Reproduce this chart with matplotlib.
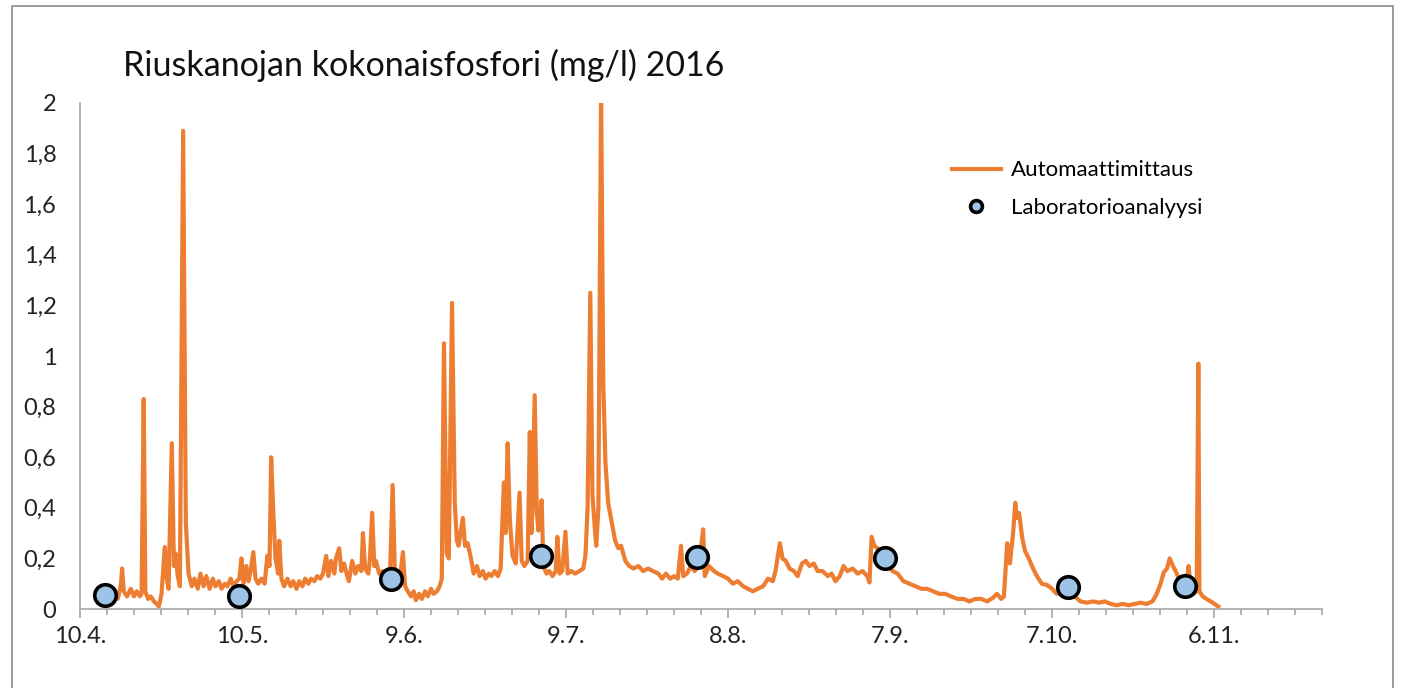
import matplotlib
matplotlib.use("Agg")
import matplotlib.pyplot as plt
import matplotlib.dates as mdates
from matplotlib.ticker import FixedLocator, FuncFormatter
from matplotlib.patches import Rectangle
import numpy as np
import pandas as pd

# aikasarja: päiviä 10.4.2016 alkaen ja pitoisuus (mg/l)
paiva = [4.2, 4.8, 5.5, 6.3, 7.0, 7.6, 7.8, 8.1, 8.7, 9.4, 10.0, 10.5, 11.1, 11.4, 11.8, 12.1,
         12.6, 13.1, 13.7, 14.2, 14.6, 15.1, 15.7, 16.1, 16.4, 17.0, 17.4, 17.7, 18.1, 18.5,
         19.1, 19.6, 20.1, 20.7, 21.2, 21.8, 22.3, 22.9, 23.4, 24.0, 24.6, 25.1, 25.7, 26.2,
         26.8, 27.3, 27.9, 28.4, 29.0, 29.5, 29.9, 30.3, 30.8, 31.2, 31.6, 32.1, 32.5, 33.0,
         33.6, 34.2, 34.7, 35.1, 35.4, 35.8, 36.2, 36.7, 36.9, 37.3, 37.8, 38.4, 39.0, 39.5,
         40.1, 40.6, 41.2, 41.7, 42.3, 42.8, 43.4, 43.9, 44.5, 45.0, 45.6, 46.0, 46.5, 47.1,
         47.4, 48.0, 48.4, 48.9, 49.5, 49.8, 50.4, 51.0, 51.5, 52.1, 52.4, 52.8, 53.4, 53.7,
         54.1, 54.5, 54.8, 55.4, 56.1, 56.9, 57.4, 57.9, 58.3, 58.9, 59.3, 59.8, 60.2, 60.7,
         61.3, 61.8, 62.2, 62.8, 63.3, 63.9, 64.4, 65.0, 65.5, 66.1, 66.6, 67.0, 67.4, 67.9,
         68.3, 68.9, 69.4, 69.8, 70.1, 70.9, 71.3, 71.8, 72.4, 72.9, 73.5, 74.0, 74.6, 75.1,
         75.7, 76.2, 76.8, 77.4, 77.9, 78.5, 78.8, 79.2, 79.6, 80.1, 80.7, 81.4, 81.8, 82.3,
         82.9, 83.3, 83.6, 83.8, 84.2, 84.6, 84.9, 85.5, 85.8, 86.4, 86.9, 87.5, 88.1, 88.4,
         88.8, 89.3, 89.9, 90.3, 91.0, 91.7, 92.5, 93.2, 93.6, 94.0, 94.5, 94.9, 95.3, 95.6,
         96.0, 96.5, 96.9, 97.3, 97.8, 98.4, 99.1, 99.7, 100.2, 101.0, 101.7, 102.5, 103.4,
         104.3, 105.2, 106.1, 107.1, 107.8, 108.5, 109.3, 110.0, 110.7, 111.3, 111.7, 112.4,
         113.1, 113.8, 114.6, 115.4, 115.7, 116.5, 117.4, 118.1, 119.1, 120.0, 120.9, 121.8,
         122.8, 123.7, 124.6, 125.5, 126.5, 127.4, 128.3, 128.8, 129.6, 130.1, 130.7, 131.4,
         132.2, 132.9, 133.7, 134.4, 135.1, 135.9, 136.6, 137.5, 138.5, 139.2, 139.9, 140.7,
         141.4, 142.1, 143.1, 144.0, 144.9, 145.8, 146.2, 146.6, 147.1, 147.7, 148.6, 149.5,
         150.5, 151.4, 152.5, 153.6, 154.7, 155.8, 156.9, 158.0, 159.1, 160.2, 161.3, 162.5,
         163.6, 164.7, 165.8, 166.9, 168.0, 169.1, 169.8, 170.6, 171.1, 171.7, 172.2, 172.8,
         173.2, 173.5, 173.9, 174.5, 175.0, 175.7, 176.5, 177.2, 178.1, 179.1, 180.0, 180.9,
         182.0, 183.1, 184.2, 185.3, 186.5, 187.6, 188.7, 189.8, 190.9, 192.0, 193.1, 194.2,
         195.3, 196.4, 197.5, 198.6, 199.4, 200.1, 200.7, 201.3, 201.8, 202.4, 202.9, 203.7,
         204.4, 205.0, 205.3, 205.7, 206.2, 206.8, 207.1, 207.3, 207.9, 208.6, 209.4, 210.1,
         210.8]
fosfori = [0.04, 0.02, 0.03, 0.05, 0.04, 0.10, 0.16, 0.07, 0.05, 0.08, 0.05, 0.07, 0.05, 0.06, 0.83, 0.07,
           0.04, 0.05, 0.03, 0.02, 0.01, 0.06, 0.245, 0.12, 0.08, 0.655, 0.17, 0.22, 0.13, 0.09,
           1.89, 0.34, 0.14, 0.09, 0.12, 0.08, 0.14, 0.09, 0.13, 0.08, 0.12, 0.09, 0.11, 0.08,
           0.10, 0.09, 0.12, 0.09, 0.11, 0.12, 0.20, 0.10, 0.17, 0.11, 0.15, 0.225, 0.12, 0.10,
           0.12, 0.10, 0.21, 0.17, 0.60, 0.38, 0.20, 0.14, 0.27, 0.12, 0.09, 0.12, 0.09, 0.11,
           0.08, 0.11, 0.09, 0.12, 0.10, 0.12, 0.11, 0.13, 0.12, 0.14, 0.21, 0.13, 0.19, 0.14,
           0.20, 0.24, 0.15, 0.18, 0.13, 0.11, 0.19, 0.14, 0.17, 0.15, 0.30, 0.16, 0.14, 0.20,
           0.38, 0.17, 0.19, 0.14, 0.15, 0.12, 0.13, 0.49, 0.15, 0.11, 0.13, 0.225, 0.09, 0.07,
           0.05, 0.07, 0.035, 0.06, 0.04, 0.07, 0.05, 0.08, 0.06, 0.07, 0.09, 0.12, 1.05, 0.22,
           0.20, 1.21, 0.42, 0.27, 0.25, 0.36, 0.25, 0.26, 0.20, 0.14, 0.17, 0.13, 0.15, 0.12,
           0.14, 0.13, 0.15, 0.13, 0.16, 0.50, 0.30, 0.655, 0.35, 0.21, 0.18, 0.46, 0.19, 0.17,
           0.19, 0.70, 0.30, 0.40, 0.845, 0.38, 0.31, 0.43, 0.17, 0.14, 0.15, 0.13, 0.15, 0.285,
           0.14, 0.15, 0.305, 0.14, 0.15, 0.14, 0.15, 0.16, 0.21, 0.40, 1.25, 0.45, 0.33, 0.25,
           0.40, 2.05, 0.90, 0.58, 0.42, 0.35, 0.27, 0.24, 0.25, 0.19, 0.17, 0.16, 0.17,
           0.15, 0.16, 0.15, 0.14, 0.12, 0.14, 0.12, 0.13, 0.12, 0.25, 0.13, 0.14,
           0.17, 0.15, 0.17, 0.315, 0.13, 0.17, 0.15, 0.14, 0.13, 0.12, 0.10, 0.11,
           0.09, 0.08, 0.07, 0.08, 0.09, 0.12, 0.11, 0.15, 0.26, 0.20, 0.19, 0.16,
           0.15, 0.13, 0.18, 0.19, 0.17, 0.18, 0.15, 0.15, 0.13, 0.14, 0.11, 0.13,
           0.17, 0.15, 0.16, 0.14, 0.15, 0.13, 0.105, 0.285, 0.25, 0.24, 0.20, 0.17,
           0.15, 0.14, 0.11, 0.10, 0.09, 0.08, 0.08, 0.07, 0.06, 0.06, 0.05, 0.04,
           0.04, 0.03, 0.04, 0.04, 0.03, 0.045, 0.06, 0.04, 0.05, 0.26, 0.18, 0.30,
           0.42, 0.36, 0.38, 0.28, 0.23, 0.20, 0.16, 0.13, 0.10, 0.095, 0.08, 0.06,
           0.07, 0.06, 0.05, 0.03, 0.025, 0.03, 0.025, 0.03, 0.02, 0.015, 0.02, 0.015,
           0.02, 0.025, 0.02, 0.03, 0.06, 0.10, 0.145, 0.16, 0.20, 0.17, 0.15, 0.11,
           0.10, 0.11, 0.17, 0.08, 0.06, 0.07, 0.97, 0.07, 0.05, 0.04, 0.03, 0.02,
           0.01]

# laboratorionäytteet
lab_paiva = [4.6, 29.4, 57.6, 85.3, 114.3, 149.0, 182.9, 204.7]
lab_arvo = [0.055, 0.05, 0.12, 0.21, 0.205, 0.20, 0.087, 0.09]

alku = pd.Timestamp("2016-04-10")
t = alku + pd.to_timedelta(paiva, unit="D")
t_lab = alku + pd.to_timedelta(lab_paiva, unit="D")

plt.rcParams['font.family'] = ['Lato', 'DejaVu Sans']

fig = plt.figure(figsize=(14.01, 6.88), dpi=100)
ax = fig.add_axes([0.0571, 0.1148, 0.8865, 0.7355])

ax.plot(t, fosfori, color='#ED7D31', lw=3, label="Automaattimittaus", zorder=2)
ax.plot(t_lab, lab_arvo, 'o', ms=15.5, mfc='#9DC3E6', mec='black', mew=2.6,
        label="Laboratorioanalyysi", zorder=3, clip_on=False)

ax.set_ylim(0, 2)
ax.set_xlim(alku, pd.Timestamp("2016-11-26"))
ax.set_yticks(np.arange(0, 2.01, 0.2))
ax.yaxis.set_major_formatter(FuncFormatter(lambda v, p: ("%g" % round(v, 1)).replace(".", ",")))

major = pd.date_range("2016-04-10", periods=8, freq="30D")
minor = pd.date_range("2016-04-10", "2016-11-26", freq="5D")
ax.xaxis.set_major_locator(FixedLocator(mdates.date2num(major)))
ax.xaxis.set_minor_locator(FixedLocator(mdates.date2num(minor)))
ax.xaxis.set_major_formatter(FuncFormatter(
    lambda v, p: "%d.%d." % (mdates.num2date(v).day, mdates.num2date(v).month)))

for s in ['top', 'right']:
    ax.spines[s].set_visible(False)
for s in ['left', 'bottom']:
    ax.spines[s].set_color('#A6A6A6')
    ax.spines[s].set_linewidth(1.2)

ax.tick_params(axis='x', which='major', length=6.5, width=1.2, color='#A6A6A6',
               labelsize=17, labelcolor='#222222', pad=6)
ax.tick_params(axis='x', which='minor', length=4.3, width=1.2, color='#A6A6A6')
ax.tick_params(axis='y', length=0, labelsize=17, labelcolor='#222222', pad=17)

fig.text(0.0878, 0.9055, "Riuskanojan kokonaisfosfori (mg/l) 2016", fontsize=24.5,
         color='#111111', ha='left', va='center')

ax.legend(loc='upper left', bbox_to_anchor=(0.686, 0.926), frameon=False, fontsize=16,
          handlelength=2.2, handletextpad=0.45, labelspacing=0.8, markerscale=0.55)

fig.patches.append(Rectangle((12 / 1401, -0.05), (1393 - 12) / 1401, 1.05 - 6 / 688,
                             transform=fig.transFigure, fill=False, ec='#8C8C8C', lw=1.2))

fig.savefig("out.png", dpi=100)
